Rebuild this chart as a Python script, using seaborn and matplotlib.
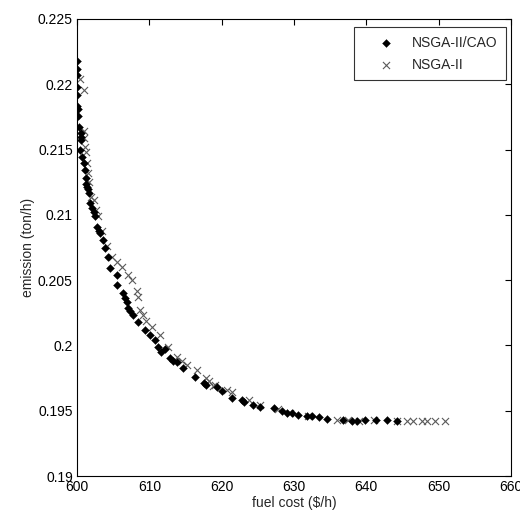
import matplotlib
matplotlib.use('Agg')
import matplotlib.pyplot as plt
import pandas as pd
import seaborn as sns

# NSGA-II/CAO front (diamonds)
cao_cost = [600.0, 600.0, 600.0, 600.0, 600.0, 600.0, 600.1, 600.1, 600.3, 600.5,
            600.5, 600.6, 600.4, 600.7, 601.0, 601.1, 601.2, 601.3, 601.4, 601.6,
            601.8, 602.3, 602.5, 602.7, 603.2, 603.6, 603.9, 604.3, 604.6, 605.5,
            605.5, 606.4, 606.9, 607.1, 607.8, 608.5, 609.4, 610.1, 610.8, 611.2,
            612.2, 612.9, 613.8, 614.7, 616.3, 617.5, 617.9, 620.0, 621.4, 622.8,
            624.4, 625.3, 627.2, 629.0, 629.7, 630.6, 631.8, 633.4, 634.5, 636.8,
            638.0, 638.7, 639.8, 641.4, 642.8, 644.2, 601.5, 602.1, 603.0, 606.6,
            607.3, 611.6, 613.3, 619.4, 623.1, 628.4, 632.5]
cao_emis = [0.2218, 0.2212, 0.2207, 0.2198, 0.2192, 0.2183, 0.2181, 0.2176, 0.2167, 0.2163,
            0.2160, 0.2157, 0.2150, 0.2144, 0.2140, 0.2134, 0.2128, 0.2124, 0.2121, 0.2117,
            0.2109, 0.2102, 0.2099, 0.2091, 0.2086, 0.2081, 0.2075, 0.2068, 0.2059, 0.2054,
            0.2046, 0.2040, 0.2033, 0.2029, 0.2023, 0.2018, 0.2012, 0.2008, 0.2004, 0.1999,
            0.1997, 0.1990, 0.1987, 0.1983, 0.1976, 0.1971, 0.1970, 0.1965, 0.1960, 0.1958,
            0.1954, 0.1953, 0.1952, 0.1948, 0.1948, 0.1947, 0.1946, 0.1945, 0.1944, 0.1943,
            0.1942, 0.1942, 0.1943, 0.1943, 0.1943, 0.1942, 0.2120, 0.2105, 0.2088, 0.2036,
            0.2026, 0.1995, 0.1988, 0.1968, 0.1957, 0.1950, 0.1946]

# NSGA-II front (crosses)
nsga_cost = [600.4, 600.9, 600.9, 601.0, 601.1, 601.2, 601.4, 601.5, 601.7, 601.9,
             602.3, 602.9, 603.4, 604.1, 604.8, 606.2, 607.1, 607.6, 608.3, 608.5,
             608.7, 609.6, 610.3, 611.5, 612.6, 613.8, 615.2, 616.6, 617.9, 618.8,
             619.1, 620.7, 621.4, 625.3, 627.8, 629.5, 632.0, 635.9, 637.5, 639.0,
             641.0, 644.2, 645.6, 646.5, 647.7, 648.4, 649.5, 650.9, 602.6, 605.5,
             609.1, 614.5, 618.3, 623.8]
nsga_emis = [0.2204, 0.2196, 0.2164, 0.2159, 0.2152, 0.2148, 0.2140, 0.2132, 0.2125, 0.2114,
             0.2111, 0.2099, 0.2088, 0.2076, 0.2068, 0.2060, 0.2054, 0.2050, 0.2042, 0.2037,
             0.2027, 0.2019, 0.2014, 0.2008, 0.1999, 0.1991, 0.1985, 0.1981, 0.1975, 0.1969,
             0.1970, 0.1966, 0.1964, 0.1954, 0.1951, 0.1948, 0.1946, 0.1943, 0.1943, 0.1942,
             0.1943, 0.1942, 0.1942, 0.1942, 0.1942, 0.1942, 0.1942, 0.1942, 0.2104, 0.2064,
             0.2023, 0.1988, 0.1973, 0.1958]

x_ticks = [600, 610, 620, 630, 640, 650, 660]
y_ticks = [0.19, 0.195, 0.2, 0.205, 0.21, 0.215, 0.22, 0.225]
y_labels = ['0.19', '0.195', '0.2', '0.205', '0.21', '0.215', '0.22', '0.225']

df = pd.DataFrame({
    'cost': cao_cost + nsga_cost,
    'emission': cao_emis + nsga_emis,
    'method': ['NSGA-II/CAO'] * len(cao_cost) + ['NSGA-II'] * len(nsga_cost),
})

sns.set_style('white')
plt.rcParams['font.family'] = ['Liberation Sans', 'DejaVu Sans']

fig = plt.figure(figsize=(5.2, 5.2), dpi=100)
ax = fig.add_axes([77 / 520, 1 - 476 / 520, 434 / 520, 457 / 520])

sns.scatterplot(data=df[df.method == 'NSGA-II'], x='cost', y='emission',
                marker='x', color='#5a5a5a', s=26, linewidth=0.8, ax=ax,
                label='NSGA-II', zorder=2)
sns.scatterplot(data=df[df.method == 'NSGA-II/CAO'], x='cost', y='emission',
                marker='D', color='black', s=16, edgecolor='black', linewidth=0.3,
                ax=ax, label='NSGA-II/CAO', zorder=3)

ax.set_xlim(600, 660)
ax.set_ylim(0.19, 0.225)
ax.set_xticks(x_ticks)
ax.set_yticks(y_ticks)
ax.set_yticklabels(y_labels)
ax.tick_params(direction='in', length=4, width=0.8, top=True, right=True,
               labelsize=10, colors='black', pad=3)
for sp in ax.spines.values():
    sp.set_color('black')
    sp.set_linewidth(0.8)
ax.set_xlabel('fuel cost ($/h)', fontsize=10, labelpad=1)
ax.set_ylabel('emission (ton/h)', fontsize=10, labelpad=2)

h, l = ax.get_legend_handles_labels()
leg = ax.legend(h[::-1], l[::-1], loc='upper right', fontsize=10, frameon=True,
                fancybox=False, edgecolor='black', borderpad=0.6,
                labelspacing=0.6, handlelength=3.4, handletextpad=0.15,
                borderaxespad=0, bbox_to_anchor=(0.988, 0.982))
leg.get_frame().set_linewidth(0.8)

fig.savefig('out.png', dpi=100)
